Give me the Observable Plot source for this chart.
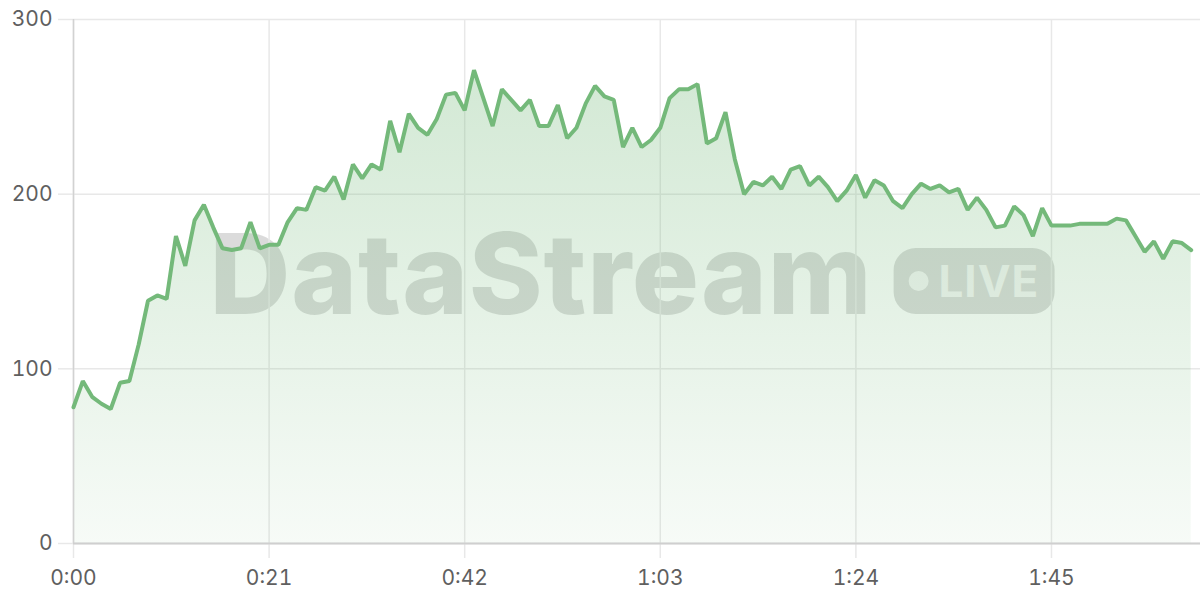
<!DOCTYPE html>
<html>
<head>
<meta charset="utf-8">
<script src="https://cdn.jsdelivr.net/npm/d3@7"></script>
<script src="https://cdn.jsdelivr.net/npm/@observablehq/plot@0.6"></script>
<style>
  html, body { margin: 0; padding: 0; background: #fff; }
  #wrap { position: relative; width: 1200px; height: 600px; overflow: hidden; font-family: Inter, "Open Sans", sans-serif; }
  #chart { position: absolute; left: 0; top: 0; z-index: 1; }
  #wm { position: absolute; left: 632px; top: 281px; transform: translate(-50%, -50%); z-index: 0;
        display: flex; align-items: center; white-space: nowrap; }
  #wm .word { position: relative; top: -8px; font-family: Inter, sans-serif; font-weight: 800; font-size: 112px; letter-spacing: 0.8px;
        color: rgba(0,0,0,0.14); line-height: 1; }
  #wm .badge { margin-left: 21px; width: 161px; height: 66px; border-radius: 22px; background: rgba(0,0,0,0.14);
        display: flex; align-items: center; justify-content: center; gap: 10px; }
  #wm .dot { width: 20px; height: 20px; border-radius: 50%; background: rgba(255,255,255,0.75); }
  #wm .live { font-family: Inter, sans-serif; font-weight: 700; font-size: 44px; color: rgba(255,255,255,0.75); line-height: 1; letter-spacing: 1px; }
</style>
</head>
<body>
<div id="wrap">
  <div id="wm"><span class="word">DataStream</span><span class="badge"><span class="dot"></span><span class="live">LIVE</span></span></div>
  <div id="chart"></div>
</div>
<script>
// Elapsed time (seconds) and measured values
const seconds = [0,1,2,3,4,5,6,7,8,9,10,11,12,13,14,15,16,17,18,19,20,21,22,23,24,25,26,27,28,29,30,
  31,32,33,34,35,36,37,38,39,40,41,42,43,44,45,46,47,48,49,50,51,52,53,54,55,56,57,58,59,60,
  61,62,63,64,65,66,67,68,69,70,71,72,73,74,75,76,77,78,79,80,81,82,83,84,85,86,87,88,89,90,
  91,92,93,94,95,96,97,98,99,100,101,102,103,104,105,106,107,108,109,110,111,112,113,114,115,116,117,118,119,120];
const values = [78,93,84,80,77,92,93,114,139,142,140,176,159,185,194,181,169,168,169,184,169,
  171,171,184,192,191,204,202,210,197,217,209,217,214,242,224,246,238,234,243,257,
  258,248,271,255,239,260,254,248,254,239,239,251,232,238,252,262,256,254,227,238,
  227,231,238,255,260,260,263,229,232,247,220,200,207,205,210,203,214,216,205,210,
  204,196,202,211,198,208,205,196,192,200,206,203,205,201,203,191,198,191,181,182,
  193,188,176,192,182,182,182,183,183,183,183,186,185,176,167,173,163,173,172,168];
const xTicks = [0, 21, 42, 63, 84, 105];
const yTicks = [0, 100, 200, 300];

const data = seconds.map((t, i) => ({t, v: values[i]}));
const fmt = t => `${Math.floor(t / 60)}:${String(t % 60).padStart(2, "0")}`;
const green = "#74b97a";

const chart = Plot.plot({
  width: 1200,
  height: 600,
  marginLeft: 73,
  marginRight: 0,
  marginTop: 19,
  marginBottom: 57,
  style: {background: "transparent", fontFamily: "Inter, 'Open Sans', sans-serif", fontSize: "21px", color: "#666"},
  x: {domain: [0, 121], axis: null},
  y: {domain: [0, 300], axis: null},
  marks: [
    () => {
      const defs = d3.create("svg:defs");
      const g = defs.append("linearGradient").attr("id", "areaGrad").attr("x1", 0).attr("y1", 0).attr("x2", 0).attr("y2", 1);
      g.append("stop").attr("offset", "0%").attr("stop-color", green).attr("stop-opacity", 0.32);
      g.append("stop").attr("offset", "100%").attr("stop-color", green).attr("stop-opacity", 0.06);
      return defs.node();
    },
    Plot.gridY(yTicks, {stroke: "#e8e8e8", strokeOpacity: 1, strokeWidth: 1.5}),
    Plot.gridX(xTicks, {stroke: "#e8e8e8", strokeOpacity: 1, strokeWidth: 1.5}),
    Plot.axisY(yTicks, {label: null, tickSize: 15, tickPadding: 6, stroke: "#e8e8e8", strokeWidth: 1.5, fill: "#5f5f5f", fontSize: 21}),
    Plot.axisX(xTicks, {label: null, tickSize: 15, tickPadding: 12, stroke: "#e8e8e8", strokeWidth: 1.5, fill: "#5f5f5f", fontSize: 21, tickFormat: fmt}),
    Plot.areaY(data, {x: "t", y: "v", fill: "url(#areaGrad)", curve: "linear"}),
    Plot.ruleX([0], {stroke: "#d2d2d2", strokeWidth: 1.5}),
    Plot.ruleY([0], {stroke: "#cfcfcf", strokeWidth: 2}),
    Plot.line(data, {x: "t", y: "v", stroke: green, strokeWidth: 4, strokeLinejoin: "miter", curve: "linear"})
  ]
});
document.getElementById("chart").appendChild(chart);
</script>
</body>
</html>
